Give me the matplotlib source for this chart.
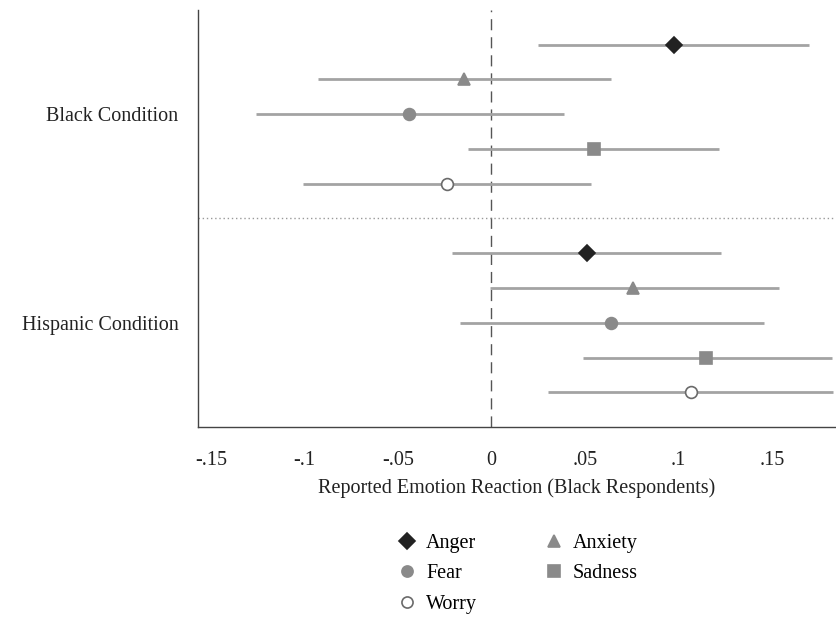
import matplotlib
matplotlib.use("Agg")
from matplotlib import pyplot as plt
from matplotlib.lines import Line2D

# estimates
emotions = ['Anger', 'Anxiety', 'Fear', 'Sadness', 'Worry']
conditions = ['Black Condition', 'Hispanic Condition']

black_est = [0.0975, -0.0145, -0.044, 0.0547, -0.024]
black_lo = [0.0247, -0.093, -0.126, -0.0123, -0.101]
black_hi = [0.170, 0.064, 0.0386, 0.1217, 0.053]

hisp_est = [0.051, 0.076, 0.064, 0.115, 0.1066]
hisp_lo = [-0.021, -0.001, -0.017, 0.049, 0.0305]
hisp_hi = [0.1227, 0.154, 0.146, 0.182, 0.183]

xticks = [-0.15, -0.1, -0.05, 0, 0.05, 0.1, 0.15]
xtick_labels = ['-.15', '-.1', '-.05', '0', '.05', '.1', '.15']

markers = {'Anger': 'D', 'Anxiety': '^', 'Fear': 'o', 'Sadness': 's', 'Worry': 'o'}
face = {'Anger': '#222222', 'Anxiety': '#8a8a8a', 'Fear': '#8a8a8a',
        'Sadness': '#8a8a8a', 'Worry': 'white'}
edge = {'Anger': '#222222', 'Anxiety': '#8a8a8a', 'Fear': '#8a8a8a',
        'Sadness': '#8a8a8a', 'Worry': '#6a6a6a'}

plt.rcParams['font.family'] = ['Liberation Serif', 'DejaVu Serif']
plt.rcParams['font.size'] = 14.5

fig = plt.figure(figsize=(8.37, 6.18), dpi=100)
ax = fig.add_axes([0.2366, 0.309, 0.7614, 0.675])

ci_col = '#a3a3a3'
for block, (est, lo, hi) in enumerate([(black_est, black_lo, black_hi),
                                       (hisp_est, hisp_lo, hisp_hi)]):
    for i, emo in enumerate(emotions):
        y = 1 + i + block * 6
        ax.plot([lo[i], hi[i]], [y, y], color=ci_col, lw=2, zorder=2,
                solid_capstyle='butt')
        ax.plot(est[i], y, marker=markers[emo], ms=8.5,
                mfc=face[emo], mec=edge[emo], mew=1.2, zorder=3)

ax.axvline(0, color='#555555', lw=1, ls=(0, (8, 5)), zorder=1)
ax.axhline(6, color='#999999', lw=1, ls=(0, (1, 2)), zorder=1)

ax.set_xlim(-0.157, 0.184)
ax.set_ylim(12, 0)
ax.set_xticks(xticks)
ax.set_xticklabels(xtick_labels)
ax.set_yticks([3, 9])
ax.set_yticklabels(conditions)
ax.tick_params(length=0, colors='#222222')
ax.tick_params(axis='x', pad=17)
ax.tick_params(axis='y', pad=14)
ax.set_xlabel('Reported Emotion Reaction (Black Respondents)', labelpad=6,
              color='#222222')

for s in ['top', 'right']:
    ax.spines[s].set_visible(False)
for s in ['left', 'bottom']:
    ax.spines[s].set_color('#444444')
    ax.spines[s].set_linewidth(1)

handles = [Line2D([], [], ls='none', marker=markers[e], ms=8, mfc=face[e],
                  mec=edge[e], mew=1.2, label=e)
           for e in ['Anger', 'Fear', 'Worry', 'Anxiety', 'Sadness']]
fig.legend(handles=handles, ncol=2, loc='upper left',
           bbox_to_anchor=(0.450, 0.166), frameon=False, handletextpad=0.35,
           columnspacing=3.2, labelspacing=0.57, handlelength=1.2)

fig.savefig('out.png', dpi=100)
